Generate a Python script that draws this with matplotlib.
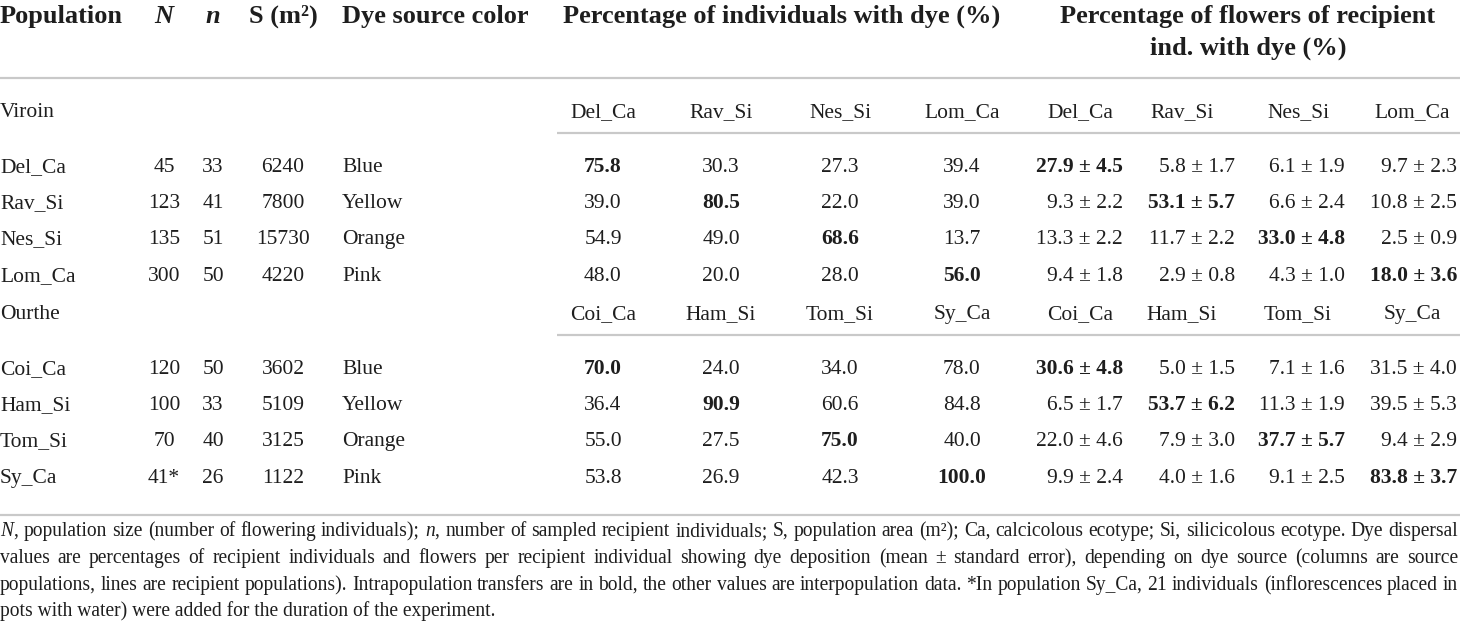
import matplotlib.pyplot as plt

plt.rcParams['font.family'] = 'Liberation Serif'
plt.rcParams['mathtext.fontset'] = 'custom'
plt.rcParams['mathtext.rm'] = 'Liberation Serif'
plt.rcParams['mathtext.it'] = 'Liberation Serif:italic'
plt.rcParams['mathtext.bf'] = 'Liberation Serif:bold'

# table data
regions = ['Viroin', 'Ourthe']
populations = [['Del_Ca', 'Rav_Si', 'Nes_Si', 'Lom_Ca'],
               ['Coi_Ca', 'Ham_Si', 'Tom_Si', 'Sy_Ca']]
pop_size = [[45, 123, 135, 300], [120, 100, 70, 41]]
n_sampled = [[33, 41, 51, 50], [50, 33, 40, 26]]
area = [[6240, 7800, 15730, 4220], [3602, 5109, 3125, 1122]]
dye_colors = ['Blue', 'Yellow', 'Orange', 'Pink']
pct_individuals = [
    [[75.8, 30.3, 27.3, 39.4], [39.0, 80.5, 22.0, 39.0],
     [54.9, 49.0, 68.6, 13.7], [48.0, 20.0, 28.0, 56.0]],
    [[70.0, 24.0, 34.0, 78.0], [36.4, 90.9, 60.6, 84.8],
     [55.0, 27.5, 75.0, 40.0], [53.8, 26.9, 42.3, 100.0]],
]
flowers_mean = [
    [[27.9, 5.8, 6.1, 9.7], [9.3, 53.1, 6.6, 10.8],
     [13.3, 11.7, 33.0, 2.5], [9.4, 2.9, 4.3, 18.0]],
    [[30.6, 5.0, 7.1, 31.5], [6.5, 53.7, 11.3, 39.5],
     [22.0, 7.9, 37.7, 9.4], [9.9, 4.0, 9.1, 83.8]],
]
flowers_se = [
    [[4.5, 1.7, 1.9, 2.3], [2.2, 5.7, 2.4, 2.5],
     [2.2, 2.2, 4.8, 0.9], [1.8, 0.8, 1.0, 3.6]],
    [[4.8, 1.5, 1.6, 4.0], [1.7, 6.2, 1.9, 5.3],
     [4.6, 3.0, 5.7, 2.9], [2.4, 1.6, 2.5, 3.7]],
]
starred_pop = 'Sy_Ca'

footnote_lines = [
    "$N$, population size (number of flowering individuals); $n$, number of sampled recipient individuals; "
    "S, population area (m²); Ca, calcicolous ecotype; Si, silicicolous ecotype. Dye dispersal",
    "values are percentages of recipient individuals and flowers per recipient individual showing dye "
    "deposition (mean ± standard error), depending on dye source (columns are source",
    "populations, lines are recipient populations). Intrapopulation transfers are in bold, the other "
    "values are interpopulation data. *In population Sy_Ca, 21 individuals (inflorescences placed in",
    "pots with water) were added for the duration of the experiment.",
]

TXT = '#1e1e1e'
RULE = '#c9c9c9'
HEAD_FS = 19
BODY_FS = 15.5
VA = 'baseline'

fig = plt.figure(figsize=(14.6, 6.25), dpi=100)
ax = fig.add_axes([0, 0, 1, 1])
ax.set_xlim(0, 1460)
ax.set_ylim(625, 0)
ax.axis('off')

# column positions (pixels)
x_pop = 0
x_N, x_n, x_S = 164, 213, 283
x_dye = 342
x_ind = [603, 721, 840, 962]
x_flw_right = [1123, 1235, 1345, 1457]
x_flw_head = [1080, 1182, 1298, 1412]

# header (baselines)
hy = 23
ax.text(x_pop, hy, 'Population', fontsize=HEAD_FS, fontweight='bold', va=VA, ha='left', color=TXT)
ax.text(x_N, hy, 'N', fontsize=HEAD_FS, fontweight='bold', style='italic', va=VA, ha='center', color=TXT)
ax.text(x_n, hy, 'n', fontsize=HEAD_FS, fontweight='bold', style='italic', va=VA, ha='center', color=TXT)
ax.text(x_S, hy, 'S (m²)', fontsize=HEAD_FS, fontweight='bold', va=VA, ha='center', color=TXT)
ax.text(x_dye, hy, 'Dye source color', fontsize=HEAD_FS, fontweight='bold', va=VA, ha='left', color=TXT)
ax.text(sum(x_ind) / 4, hy, 'Percentage of individuals with dye (%)', fontsize=HEAD_FS,
        fontweight='bold', va=VA, ha='center', color=TXT)
ax.text(1248, hy, 'Percentage of flowers of recipient', fontsize=HEAD_FS,
        fontweight='bold', va=VA, ha='center', color=TXT)
ax.text(1248, hy + 32, 'ind. with dye (%)', fontsize=HEAD_FS,
        fontweight='bold', va=VA, ha='center', color=TXT)
ax.plot([0, 1460], [78, 78], color=RULE, lw=1.6, solid_capstyle='butt')

region_y = [117, 319]
row_gap = 36.2
for g, region in enumerate(regions):
    ry = region_y[g]
    ax.text(x_pop, ry, region, fontsize=BODY_FS, va=VA, ha='left', color=TXT)
    for j, src in enumerate(populations[g]):
        ax.text(x_ind[j], ry, src, fontsize=BODY_FS, va=VA, ha='center', color=TXT)
        ax.text(x_flw_head[j], ry, src, fontsize=BODY_FS, va=VA, ha='center', color=TXT)
    ax.plot([557, 1460], [ry + 16, ry + 16], color=RULE, lw=1.6, solid_capstyle='butt')

    for i, pop in enumerate(populations[g]):
        y = ry + 55 + row_gap * i
        n_txt = f'{pop_size[g][i]}' + ('*' if pop == starred_pop else '')
        ax.text(x_pop, y, pop, fontsize=BODY_FS, va=VA, ha='left', color=TXT)
        ax.text(x_N, y, n_txt, fontsize=BODY_FS, va=VA, ha='center', color=TXT)
        ax.text(x_n, y, f'{n_sampled[g][i]}', fontsize=BODY_FS, va=VA, ha='center', color=TXT)
        ax.text(x_S, y, f'{area[g][i]}', fontsize=BODY_FS, va=VA, ha='center', color=TXT)
        ax.text(x_dye, y, dye_colors[i], fontsize=BODY_FS, va=VA, ha='left', color=TXT)
        for j in range(4):
            w = 'bold' if i == j else 'normal'
            ax.text(x_ind[j], y, f'{pct_individuals[g][i][j]:.1f}', fontsize=BODY_FS,
                    fontweight=w, va=VA, ha='center', color=TXT)
            ax.text(x_flw_right[j], y, f'{flowers_mean[g][i][j]:.1f} ± {flowers_se[g][i][j]:.1f}',
                    fontsize=BODY_FS, fontweight=w, va=VA, ha='right', color=TXT)

ax.plot([0, 1460], [515, 515], color=RULE, lw=1.6, solid_capstyle='butt')

# footnote, justified
renderer = fig.canvas.get_renderer()
probe = ax.text(0, 0, footnote_lines[0], fontsize=10)
natural = probe.get_window_extent(renderer).width
probe.remove()
foot_fs = 10 * 1452 / natural

foot_y = [536, 563, 590, 616]
for k, line in enumerate(footnote_lines):
    if k == len(footnote_lines) - 1:
        ax.text(0, foot_y[k], line, fontsize=foot_fs, va='baseline', ha='left', color=TXT)
        continue
    words = line.split(' ')
    texts = [ax.text(0, foot_y[k], w, fontsize=foot_fs, va='baseline', ha='left', color=TXT)
             for w in words]
    widths = [t.get_window_extent(renderer).width for t in texts]
    gap = (1458 - sum(widths)) / (len(words) - 1)
    x = 0
    for t, w in zip(texts, widths):
        t.set_x(x)
        x += w + gap

fig.savefig('out.png', dpi=100)
